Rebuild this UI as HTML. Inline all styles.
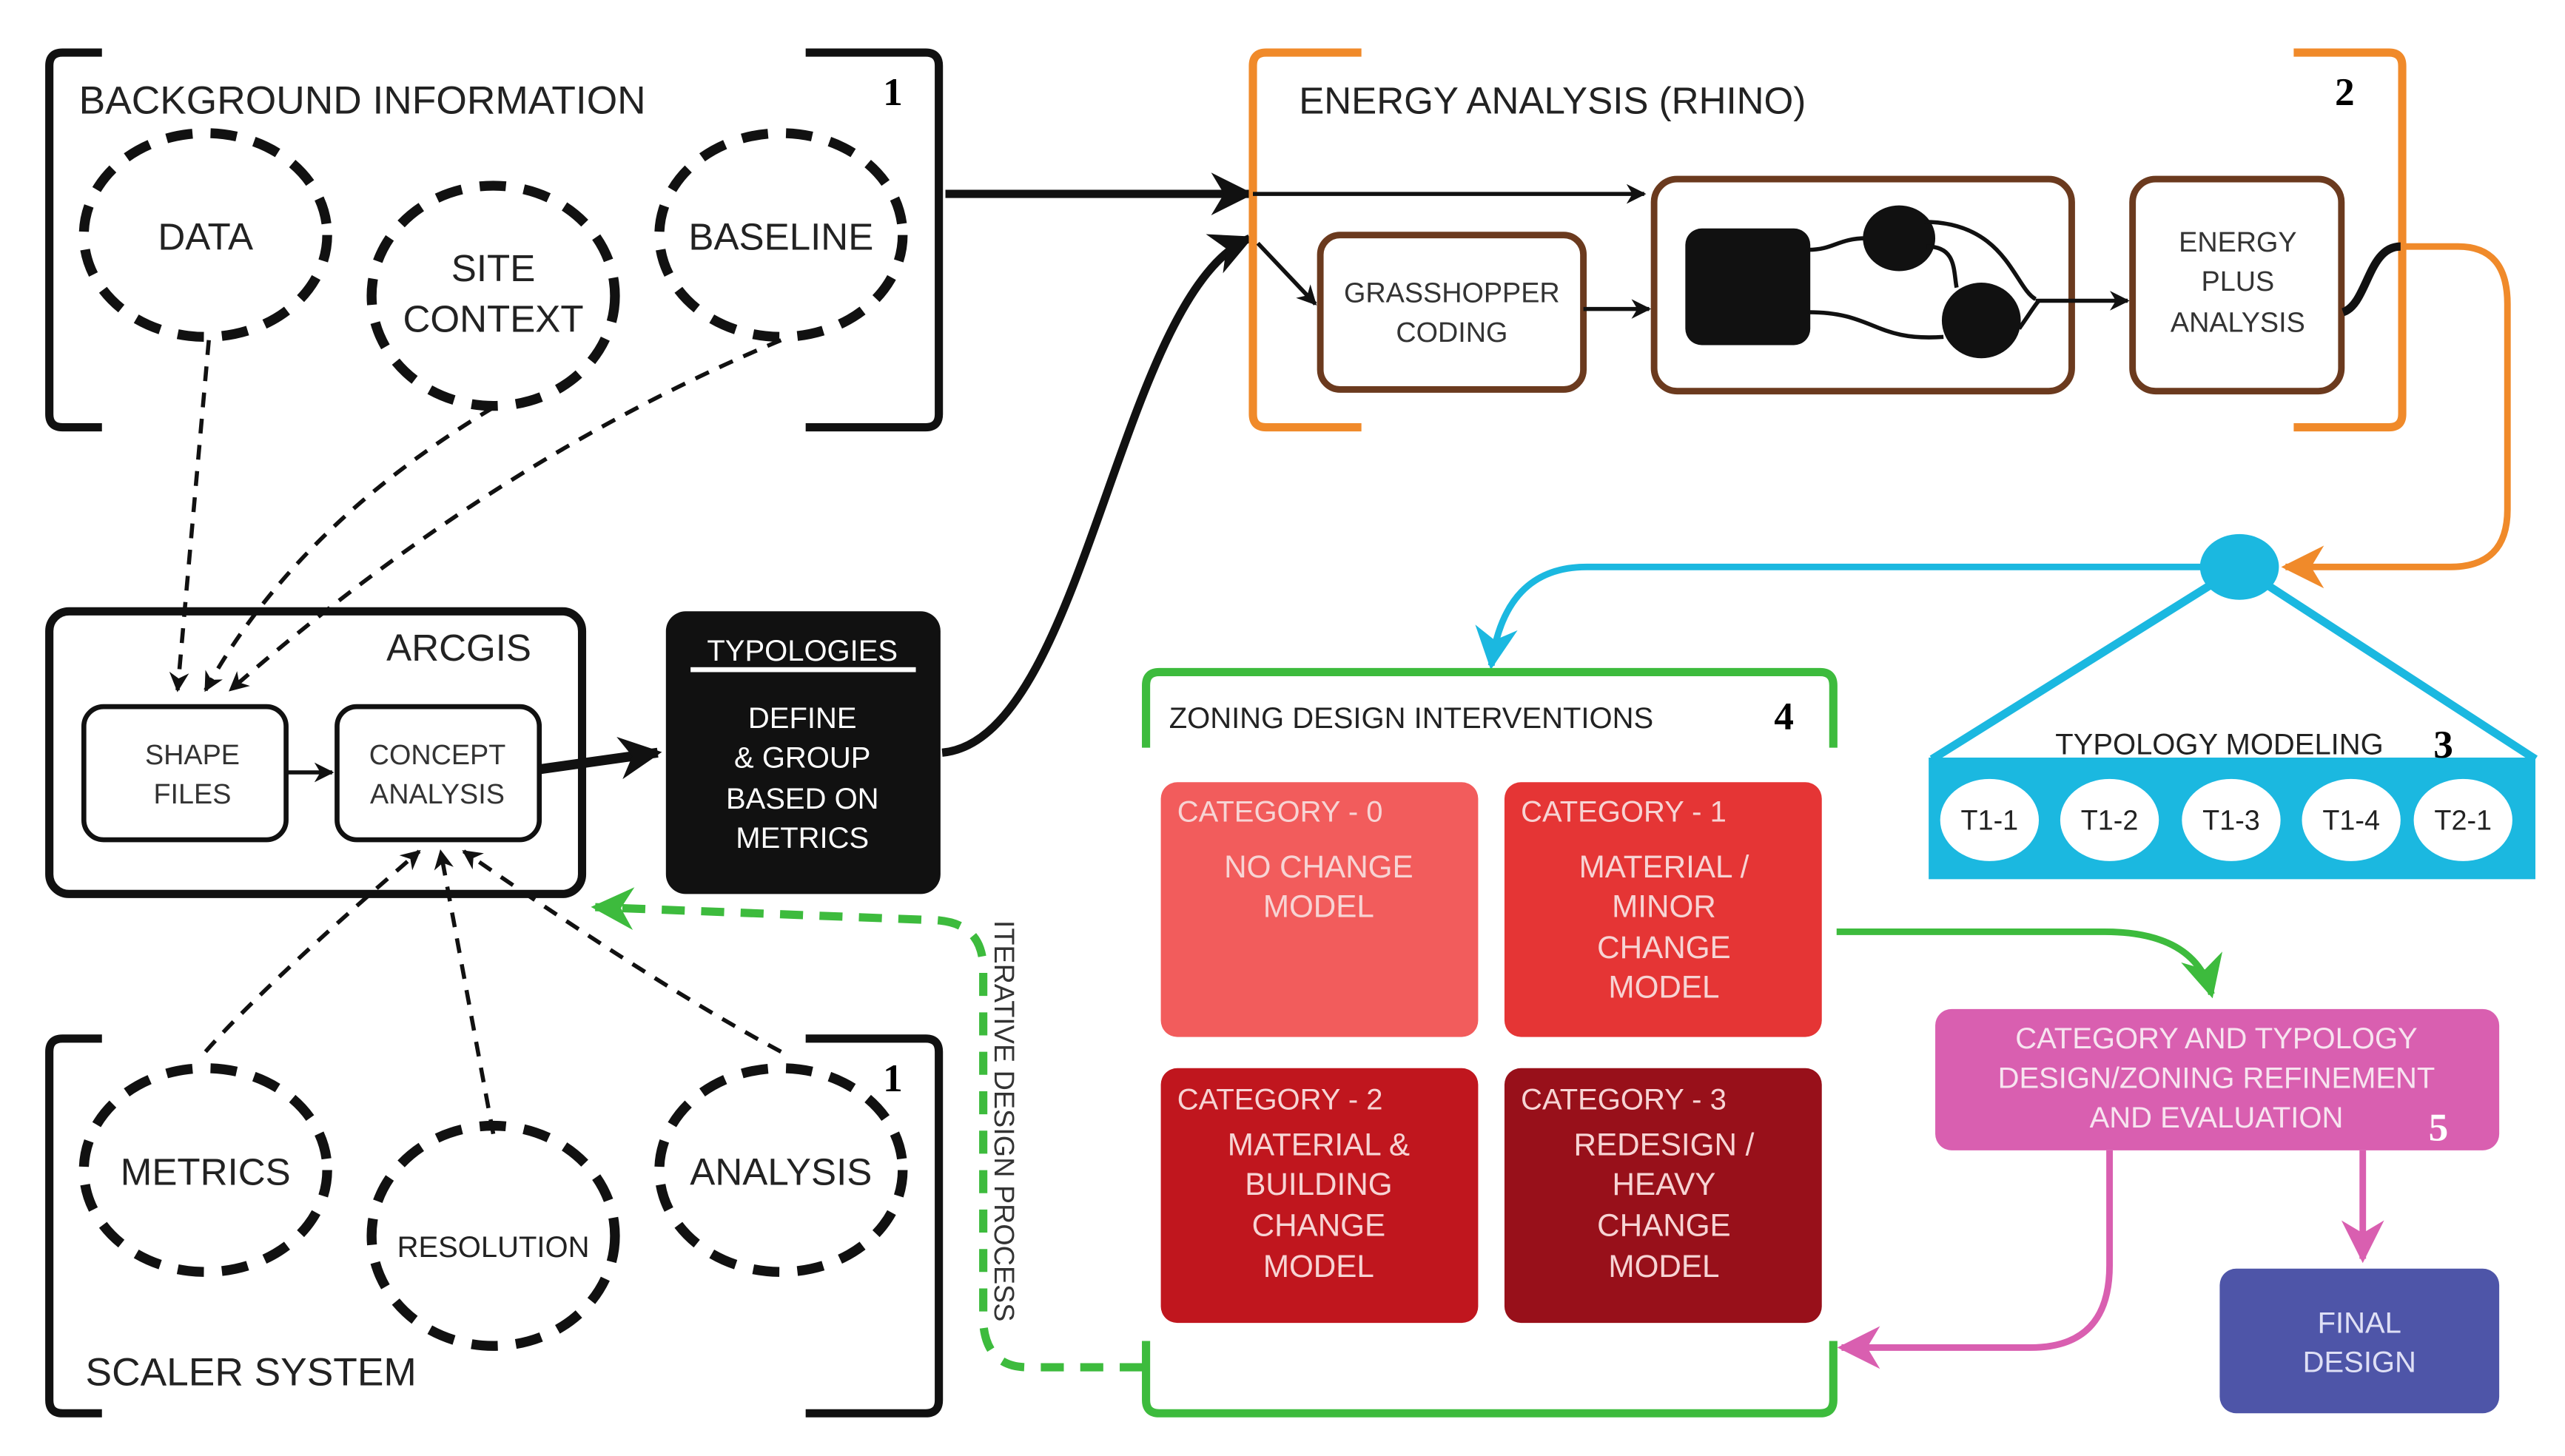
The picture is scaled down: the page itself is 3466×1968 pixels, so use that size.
<!DOCTYPE html>
<html><head><meta charset="utf-8"><style>
html,body{margin:0;padding:0;background:#fff;}
svg{display:block;}
text{font-family:"Liberation Sans",sans-serif;}
</style></head><body>
<svg width="3466" height="1968" viewBox="0 0 1560 886" preserveAspectRatio="none" xmlns="http://www.w3.org/2000/svg">
<defs>
<marker id="ab" viewBox="0 0 10 10" refX="9" refY="5" markerWidth="5" markerHeight="5" orient="auto" markerUnits="userSpaceOnUse"><path d="M0,0 L10,5 L0,10 L3,5z" fill="#111"/></marker>
<marker id="abs" viewBox="0 0 10 10" refX="9" refY="5" markerWidth="12" markerHeight="12" orient="auto" markerUnits="userSpaceOnUse"><path d="M0,0 L10,5 L0,10 L3,5z" fill="#111"/></marker>
<marker id="abl" viewBox="0 0 10 10" refX="9" refY="5" markerWidth="26" markerHeight="26" orient="auto" markerUnits="userSpaceOnUse"><path d="M0,0 L10,5 L0,10 L3,5z" fill="#111"/></marker>
<marker id="ag" viewBox="0 0 10 10" refX="9" refY="5" markerWidth="26" markerHeight="26" orient="auto" markerUnits="userSpaceOnUse"><path d="M0,0 L10,5 L0,10 L3,5z" fill="#3dbb3d"/></marker>
<marker id="ao" viewBox="0 0 10 10" refX="9" refY="5" markerWidth="26" markerHeight="26" orient="auto" markerUnits="userSpaceOnUse"><path d="M0,0 L10,5 L0,10 L3,5z" fill="#f08a2a"/></marker>
<marker id="ac" viewBox="0 0 10 10" refX="9" refY="5" markerWidth="26" markerHeight="26" orient="auto" markerUnits="userSpaceOnUse"><path d="M0,0 L10,5 L0,10 L3,5z" fill="#1bb8e0"/></marker>
<marker id="ap" viewBox="0 0 10 10" refX="9" refY="5" markerWidth="26" markerHeight="26" orient="auto" markerUnits="userSpaceOnUse"><path d="M0,0 L10,5 L0,10 L3,5z" fill="#d95fb0"/></marker>
</defs>

<!-- Box 1 top brackets -->
<g fill="none" stroke="#111" stroke-width="5">
<path d="M62,32 H38 Q30,32 30,40 V252 Q30,260 38,260 H62"/>
<path d="M490,32 H563 Q571,32 571,40 V252 Q571,260 563,260 H490"/>
<path d="M62,632 H38 Q30,632 30,640 V852 Q30,860 38,860 H62"/>
<path d="M490,632 H563 Q571,632 571,640 V852 Q571,860 563,860 H490"/>
</g>
<text x="48" y="69" font-size="24" fill="#222">BACKGROUND INFORMATION</text>
<text x="537" y="64" font-size="24" font-weight="bold" font-family="Liberation Serif" style="font-family:'Liberation Serif',serif">1</text>
<text x="537" y="664" font-size="24" font-weight="bold" style="font-family:'Liberation Serif',serif">1</text>
<text x="52" y="843" font-size="24" fill="#222">SCALER SYSTEM</text>

<g fill="none" stroke="#111" stroke-width="6" stroke-dasharray="16,11">
<ellipse cx="125" cy="143" rx="74" ry="62"/>
<ellipse cx="300" cy="180" rx="74" ry="67"/>
<ellipse cx="475" cy="143" rx="74" ry="62"/>
<ellipse cx="125" cy="712" rx="74" ry="62"/>
<ellipse cx="300" cy="752" rx="74" ry="67"/>
<ellipse cx="475" cy="712" rx="74" ry="62"/>
</g>
<g font-size="23" fill="#222" text-anchor="middle">
<text x="125" y="152">DATA</text>
<text x="300" y="171">SITE</text>
<text x="300" y="202">CONTEXT</text>
<text x="475" y="152">BASELINE</text>
<text x="125" y="721">METRICS</text>
<text x="300" y="765" font-size="18">RESOLUTION</text>
<text x="475" y="721">ANALYSIS</text>
</g>

<!-- dashed connectors -->
<g fill="none" stroke="#111" stroke-width="2.5" stroke-dasharray="9,7">
<path d="M127,207 L108,420" marker-end="url(#abs)"/>
<path d="M300,248 Q180,320 125,420" marker-end="url(#abs)"/>
<path d="M475,207 Q300,280 140,420" marker-end="url(#abs)"/>
<path d="M125,640 Q160,600 255,518" marker-end="url(#abs)"/>
<path d="M300,690 L268,518" marker-end="url(#abs)"/>
<path d="M475,640 Q400,600 282,518" marker-end="url(#abs)"/>
</g>

<!-- ARCGIS -->
<rect x="30" y="372" width="324" height="172" rx="12" fill="none" stroke="#111" stroke-width="5"/>
<text x="235" y="402" font-size="23" fill="#222">ARCGIS</text>
<rect x="51" y="430" width="123" height="81" rx="12" fill="#fff" stroke="#111" stroke-width="3"/>
<rect x="205" y="430" width="123" height="81" rx="12" fill="#fff" stroke="#111" stroke-width="3"/>
<g font-size="17" fill="#333" text-anchor="middle">
<text x="117" y="465">SHAPE</text><text x="117" y="489">FILES</text>
<text x="266" y="465">CONCEPT</text><text x="266" y="489">ANALYSIS</text>
</g>
<path d="M175,470 H202" stroke="#111" stroke-width="2.5" marker-end="url(#abs)"/>
<path d="M329,468 L400,458" stroke="#111" stroke-width="6" marker-end="url(#abl)"/>

<!-- TYPOLOGIES -->
<rect x="405" y="372" width="167" height="172" rx="12" fill="#111"/>
<g font-size="18" fill="#fff" text-anchor="middle">
<text x="488" y="402">TYPOLOGIES</text>
<text x="488" y="443">DEFINE</text>
<text x="488" y="467">&amp; GROUP</text>
<text x="488" y="492">BASED ON</text>
<text x="488" y="516">METRICS</text>
</g>
<rect x="420" y="406" width="137" height="3" fill="#fff"/>
<path d="M573,458 C660,450 680,180 760,145" fill="none" stroke="#111" stroke-width="5" marker-end="url(#abl)"/>
<path d="M575,118 H760" stroke="#111" stroke-width="5" marker-end="url(#abl)"/>

<!-- green iterative -->
<path d="M695,832 H625 Q600,832 598,805 V590 Q598,562 570,560 L362,552" fill="none" stroke="#3dbb3d" stroke-width="5" stroke-dasharray="14,10" marker-end="url(#ag)"/>
<text transform="translate(605,560) rotate(90)" font-size="17" fill="#333">ITERATIVE DESIGN PROCESS</text>

<!-- Box 2 -->
<g fill="none" stroke="#f08a2a" stroke-width="5">
<path d="M828,32 H770 Q762,32 762,40 V252 Q762,260 770,260 H828"/>
<path d="M1395,32 H1453 Q1461,32 1461,40 V252 Q1461,260 1453,260 H1395"/>
</g>
<text x="790" y="69" font-size="23" fill="#222">ENERGY ANALYSIS (RHINO)</text>
<text x="1420" y="64" font-size="24" font-weight="bold" style="font-family:'Liberation Serif',serif">2</text>
<path d="M762,118 H1000" stroke="#111" stroke-width="2.5" marker-end="url(#abs)"/>
<path d="M765,148 L800,185" stroke="#111" stroke-width="2.5" marker-end="url(#abs)"/>
<g fill="#fff" stroke="#6b3a1e" stroke-width="4">
<rect x="803" y="143" width="160" height="94" rx="12"/>
<rect x="1006" y="109" width="254" height="129" rx="14"/>
<rect x="1297" y="109" width="127" height="129" rx="14"/>
</g>
<g font-size="17" fill="#333" text-anchor="middle">
<text x="883" y="184">GRASSHOPPER</text><text x="883" y="208">CODING</text>
<text x="1361" y="153">ENERGY</text><text x="1361" y="177">PLUS</text><text x="1361" y="202">ANALYSIS</text>
</g>
<path d="M963,188 H1003" stroke="#111" stroke-width="2.5" marker-end="url(#abs)"/>
<rect x="1025" y="139" width="76" height="71" rx="10" fill="#111"/>
<ellipse cx="1155" cy="145" rx="22" ry="20" fill="#111"/>
<ellipse cx="1205" cy="195" rx="24" ry="23" fill="#111"/>
<g fill="none" stroke="#111" stroke-width="2.5">
<path d="M1100,152 C1115,152 1118,145 1135,145"/>
<path d="M1100,190 C1140,190 1140,208 1182,205"/>
<path d="M1170,135 C1220,135 1225,175 1238,182"/>
<path d="M1172,150 C1190,150 1188,165 1190,175"/>
<path d="M1228,200 C1235,190 1238,185 1240,183"/>
</g>
<path d="M1238,183 H1294" stroke="#111" stroke-width="2.5" marker-end="url(#abs)"/>
<path d="M1425,190 C1440,185 1440,150 1460,150" fill="none" stroke="#111" stroke-width="5"/>

<!-- orange connector -->
<path d="M1462,150 H1495 Q1525,150 1525,185 V310 Q1525,345 1490,345 H1390" fill="none" stroke="#f08a2a" stroke-width="4" marker-end="url(#ao)"/>

<!-- cyan -->
<path d="M1340,345 H965 Q915,345 907,405" fill="none" stroke="#1bb8e0" stroke-width="4" marker-end="url(#ac)"/>
<path d="M1175,462 L1362,345 L1542,462" fill="none" stroke="#1bb8e0" stroke-width="5"/>
<ellipse cx="1362" cy="345" rx="24" ry="20" fill="#1bb8e0"/>
<rect x="1173" y="461" width="369" height="74" fill="#1bb8e0"/>
<text x="1250" y="459" font-size="18" fill="#222">TYPOLOGY MODELING</text>
<text x="1480" y="461" font-size="24" font-weight="bold" style="font-family:'Liberation Serif',serif">3</text>
<g fill="#fff"><ellipse cx="1210" cy="499" rx="30" ry="25"/><ellipse cx="1283" cy="499" rx="30" ry="25"/><ellipse cx="1357" cy="499" rx="30" ry="25"/><ellipse cx="1430" cy="499" rx="30" ry="25"/><ellipse cx="1498" cy="499" rx="30" ry="25"/></g>
<g font-size="17" fill="#222" text-anchor="middle">
<text x="1210" y="505">T1-1</text><text x="1283" y="505">T1-2</text><text x="1357" y="505">T1-3</text><text x="1430" y="505">T1-4</text><text x="1498" y="505">T2-1</text>
</g>

<!-- Box 4 -->
<g fill="none" stroke="#3dbb3d" stroke-width="5">
<path d="M697,455 V417 Q697,409 705,409 H1107 Q1115,409 1115,417 V455"/>
<path d="M697,816 V852 Q697,860 705,860 H1107 Q1115,860 1115,852 V816"/>
</g>
<text x="711" y="443" font-size="18" fill="#222">ZONING DESIGN INTERVENTIONS</text>
<text x="1079" y="444" font-size="24" font-weight="bold" style="font-family:'Liberation Serif',serif">4</text>
<rect x="706" y="476" width="193" height="155" rx="10" fill="#f25c5c"/>
<rect x="915" y="476" width="193" height="155" rx="10" fill="#e53535"/>
<rect x="706" y="650" width="193" height="155" rx="10" fill="#c0161e"/>
<rect x="915" y="650" width="193" height="155" rx="10" fill="#98101a"/>
<g font-size="18" fill="#f7d4d4">
<text x="716" y="500">CATEGORY - 0</text>
<text x="925" y="500">CATEGORY - 1</text>
<text x="716" y="675">CATEGORY - 2</text>
<text x="925" y="675">CATEGORY - 3</text>
</g>
<g font-size="19" fill="#f7d4d4" text-anchor="middle">
<text x="802" y="534">NO  CHANGE</text><text x="802" y="558">MODEL</text>
<text x="1012" y="534">MATERIAL /</text><text x="1012" y="558">MINOR</text><text x="1012" y="583">CHANGE</text><text x="1012" y="607">MODEL</text>
<text x="802" y="703">MATERIAL &amp;</text><text x="802" y="727">BUILDING</text><text x="802" y="752">CHANGE</text><text x="802" y="777">MODEL</text>
<text x="1012" y="703">REDESIGN /</text><text x="1012" y="727">HEAVY</text><text x="1012" y="752">CHANGE</text><text x="1012" y="777">MODEL</text>
</g>

<!-- green arrow to 5 -->
<path d="M1117,567 H1280 Q1335,567 1345,605" fill="none" stroke="#3dbb3d" stroke-width="4" marker-end="url(#ag)"/>

<!-- Box 5 -->
<rect x="1177" y="614" width="343" height="86" rx="10" fill="#d95fb0"/>
<g font-size="18" fill="#f7e4f0" text-anchor="middle">
<text x="1348" y="638">CATEGORY AND TYPOLOGY</text>
<text x="1348" y="662">DESIGN/ZONING REFINEMENT</text>
<text x="1348" y="686">AND EVALUATION</text>
</g>
<text x="1477" y="694" font-size="24" font-weight="bold" fill="#fff" style="font-family:'Liberation Serif',serif">5</text>
<path d="M1437,700 V766" stroke="#d95fb0" stroke-width="4" marker-end="url(#ap)"/>
<rect x="1350" y="772" width="170" height="88" rx="10" fill="#4e55a8"/>
<g font-size="18" fill="#dfe0f5" text-anchor="middle"><text x="1435" y="811">FINAL</text><text x="1435" y="835">DESIGN</text></g>
<path d="M1283,700 V770 Q1283,820 1235,820 H1120" fill="none" stroke="#d95fb0" stroke-width="4" marker-end="url(#ap)"/>
</svg>
</body></html>
